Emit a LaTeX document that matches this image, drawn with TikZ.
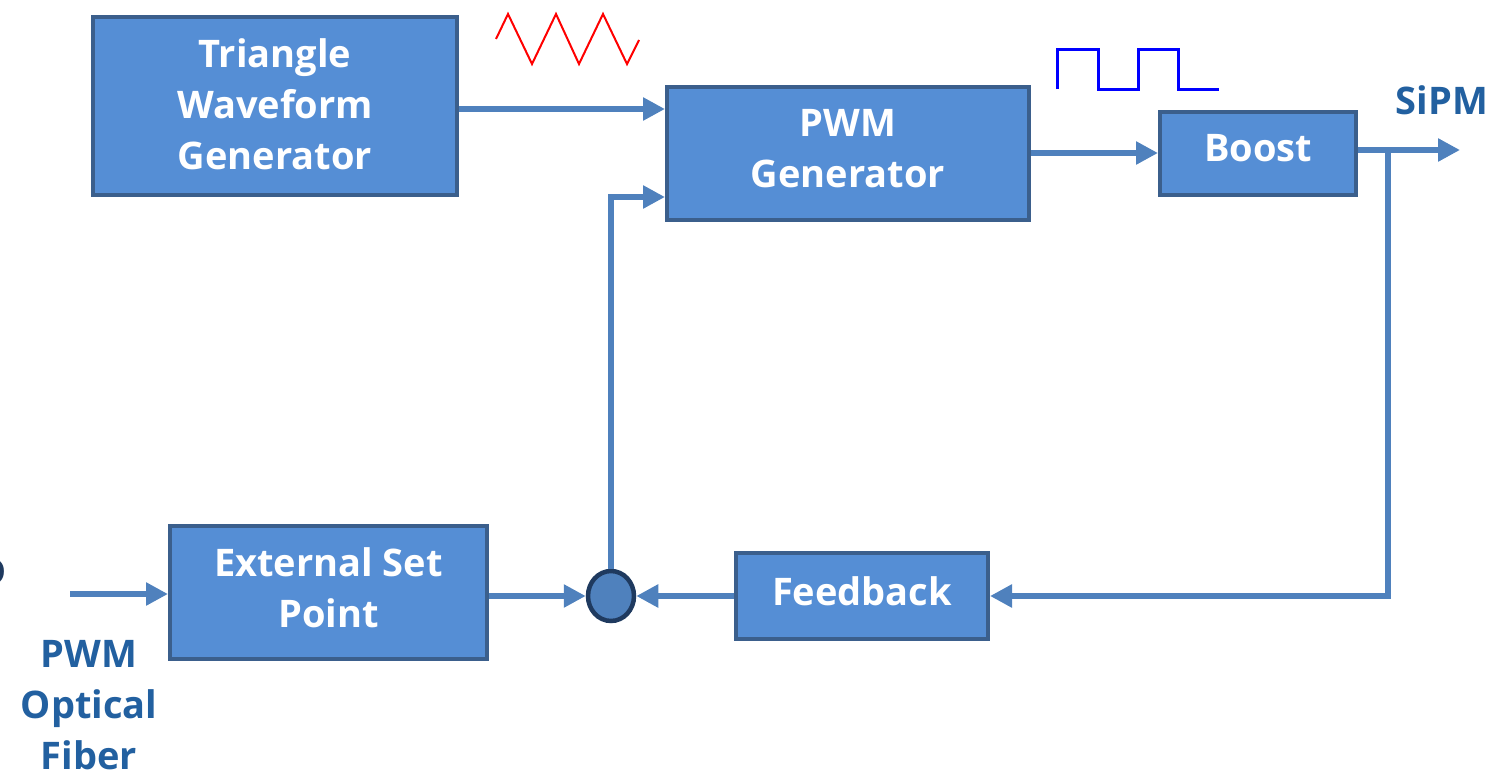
\documentclass[tikz,border=0pt]{standalone}
\usepackage{fontspec}
\setmainfont{Open Sans}
\usetikzlibrary{arrows.meta,shapes.geometric}
\definecolor{boxfill}{HTML}{558ED5}
\definecolor{boxedge}{HTML}{3B5F8C}
\definecolor{linec}{HTML}{4F81BD}
\definecolor{labelc}{HTML}{2260A0}
\definecolor{navy}{HTML}{1F3A5F}
\begin{document}
\begin{tikzpicture}[x=1pt,y=-1pt,
  blk/.style={draw=boxedge,fill=boxfill,line width=4pt,rectangle,inner sep=0pt},
  blktext/.style={text=white,font=\fontsize{38}{51}\selectfont\bfseries,align=center,inner sep=0pt,yshift=5pt},
  conn/.style={draw=linec,line width=6pt,-{Triangle[length=22pt,width=22pt]}},
  lab/.style={text=labelc,font=\fontsize{38}{51}\selectfont\bfseries,align=center,inner sep=0pt}]
\useasboundingbox (0,0) rectangle (1493,771);
% blocks
\node[blk,minimum width=364pt,minimum height=178pt,
  label={[blktext,yshift=-3pt,name=triT]center:Triangle\\Waveform\\Generator}] (tri) at (275,106) {};
\node[blk,minimum width=362pt,minimum height=133pt,
  label={[blktext,name=pwmT]center:PWM\\Generator}] (pwm) at (848,153.5) {};
\node[blk,minimum width=196pt,minimum height=83pt,
  label={[blktext,name=boostT]center:Boost}] (boost) at (1258,153.5) {};
\node[blk,minimum width=317pt,minimum height=133pt,
  label={[blktext,name=extT]center:External Set\\Point}] (ext) at (328.5,592.5) {};
\node[blk,minimum width=252pt,minimum height=86pt,
  label={[blktext,name=fbT]center:Feedback}] (fb) at (862,596) {};
\node[ellipse,draw=navy,fill=linec,line width=4.5pt,minimum width=46pt,minimum height=50pt,inner sep=0pt] (sum) at (611,596) {};
% labels
\node[lab] (sipm) at (1442,100) {SiPM};
\node[lab] (fiber) at (89,705) {PWM\\Optical\\Fiber};
\node[text=navy,font=\fontsize{38}{40}\selectfont\bfseries,anchor=east,inner sep=0pt] (cut) at (7,572) {D};
% free ends
\coordinate (inp) at (70,594);
\coordinate (out) at (1460,150);
\coordinate (tap) at (1388,150);
% connectors
\draw[conn] (tri.east |- 0,109) -- (pwm.west |- 0,109);
\draw[conn] (pwm.east |- 0,153) -- (boost.west |- 0,153);
\draw[conn] (boost.east |- out) -- (out);
\draw[conn] (tap) -- (tap |- fb.east) -- (fb.east);
\draw[conn] (fb.west) -- (sum.east);
\draw[conn] (ext.east |- sum) -- (sum.west);
\draw[conn] (sum.north) -- (sum.north |- 0,197) -- (pwm.west |- 0,197);
\draw[conn] (inp) -- (ext.west |- inp);
% waveforms
\draw[red,line width=2pt,line join=miter] (496,39) -- (508,14) -- (532,64) -- (556,14) -- (579,64) -- (603,14) -- (627,64) -- (639,40);
\draw[blue,line width=3pt,line join=miter] (1057,89) -- (1057,49) -- (1098,49) -- (1098,89) -- (1138,89) -- (1138,49) -- (1178,49) -- (1178,89) -- (1219,89);
\end{tikzpicture}
\end{document}
